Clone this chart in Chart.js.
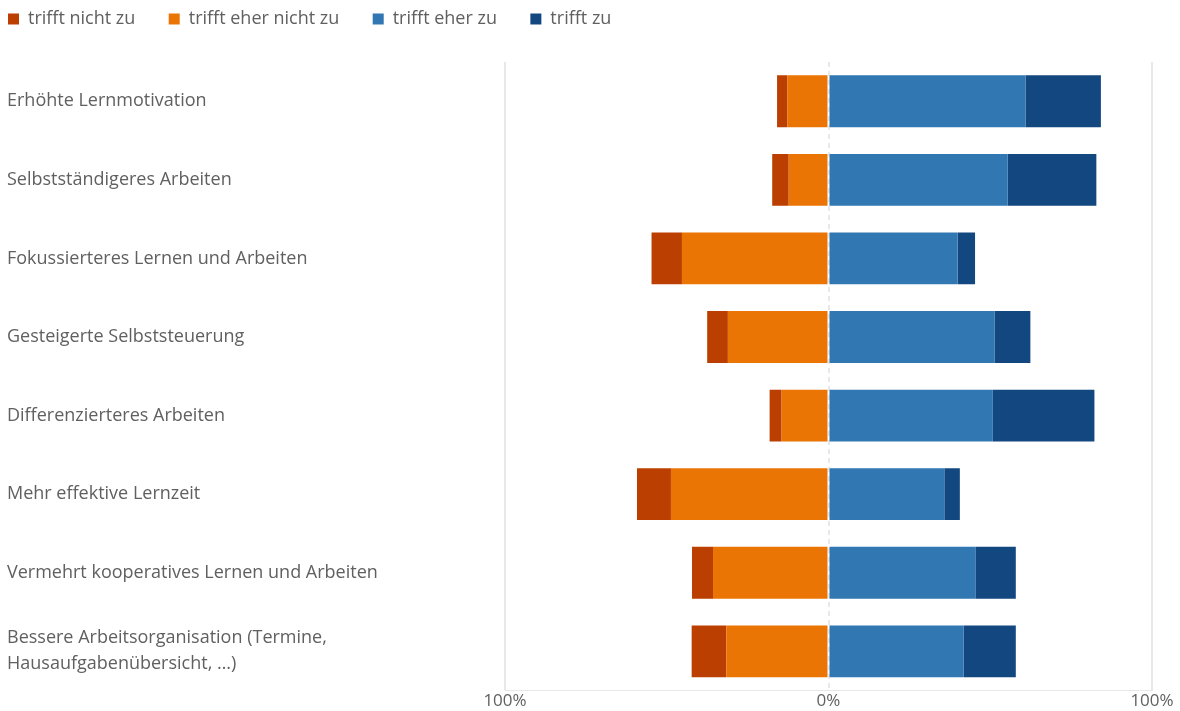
<!DOCTYPE html>
<html lang="de">
<head>
<meta charset="utf-8">
<title>Auswertung</title>
<script src="https://cdn.jsdelivr.net/npm/chart.js@4.4.1/dist/chart.umd.min.js"></script>
<style>
  html, body { margin: 0; padding: 0; background: #fff; }
  #wrap { width: 1180px; height: 711px; position: relative; }
</style>
</head>
<body>
<div id="wrap"><canvas id="likertChart"></canvas></div>
<script>
// Statements (top to bottom)
const statements = [
  'Erhöhte Lernmotivation',
  'Selbstständigeres Arbeiten',
  'Fokussierteres Lernen und Arbeiten',
  'Gesteigerte Selbststeuerung',
  'Differenzierteres Arbeiten',
  'Mehr effektive Lernzeit',
  'Vermehrt kooperatives Lernen und Arbeiten',
  ['Bessere Arbeitsorganisation (Termine,', 'Hausaufgabenübersicht, …)']
];

// Share of answers in percent
const trifftNichtZu     = [3.2, 5.1, 9.4, 6.4, 3.7, 10.5, 6.5, 10.7];
const trifftEherNichtZu = [12.7, 12.3, 45.3, 31.1, 14.5, 48.7, 35.7, 31.6];
const trifftEherZu      = [60.9, 55.4, 39.9, 51.3, 50.8, 35.8, 45.4, 41.8];
const trifftZu          = [23.3, 27.4, 5.4, 11.1, 31.4, 4.8, 12.5, 16.1];

const xTicks = [-100, 0, 100];

const colors = {
  nicht: '#BA3F00',
  eherNicht: '#EA7404',
  eherZu: '#3177B2',
  zu: '#134780'
};

const fontFamily = '"Open Sans", "Noto Sans", sans-serif';
const textColor = '#606060';
const gridColor = '#e8e8e8';

// negative stack grows from 0 to the left, so "eher nicht" comes first
const legendOrder = [1, 0, 2, 3];

// extra room between legend and plot, legend pulled to the left edge
const legendSpacing = {
  id: 'legendSpacing',
  beforeInit(chart) {
    const origFit = chart.legend.fit;
    chart.legend.fit = function fit() {
      origFit.bind(chart.legend)();
      this.height += 24;
    };
  },
  afterLayout(chart) {
    chart.legend.left -= 9;
  }
};

const ctx = document.getElementById('likertChart').getContext('2d');
new Chart(ctx, {
  type: 'bar',
  data: {
    labels: statements,
    datasets: [
      {
        label: 'trifft eher nicht zu',
        data: trifftEherNichtZu.map(v => -v),
        backgroundColor: colors.eherNicht
      },
      {
        label: 'trifft nicht zu',
        data: trifftNichtZu.map(v => -v),
        backgroundColor: colors.nicht
      },
      {
        label: 'trifft eher zu',
        data: trifftEherZu,
        backgroundColor: colors.eherZu
      },
      {
        label: 'trifft zu',
        data: trifftZu,
        backgroundColor: colors.zu
      }
    ]
  },
  options: {
    indexAxis: 'y',
    responsive: true,
    maintainAspectRatio: false,
    animation: false,
    datasets: {
      bar: {
        categoryPercentage: 0.66,
        barPercentage: 1,
        borderWidth: 0
      }
    },
    layout: {
      padding: { left: 7, right: 28, top: 0, bottom: 0 }
    },
    plugins: {
      legend: {
        position: 'top',
        align: 'start',
        labels: {
          boxWidth: 11,
          boxHeight: 11,
          padding: 10,
          color: textColor,
          font: { family: fontFamily, size: 18 },
          sort: (a, b) => legendOrder.indexOf(a.datasetIndex) - legendOrder.indexOf(b.datasetIndex),
          generateLabels(chart) {
            const items = Chart.defaults.plugins.legend.labels.generateLabels(chart);
            // widen each entry a bit so the items sit further apart
            items.forEach(item => { item.text += '     '; });
            return items;
          }
        }
      },
      tooltip: {
        callbacks: {
          label: c => c.dataset.label + ': ' + Math.abs(c.raw) + '%'
        }
      }
    },
    scales: {
      x: {
        stacked: true,
        min: -100,
        max: 100,
        afterBuildTicks: scale => {
          scale.ticks = xTicks.map(v => ({ value: v }));
        },
        ticks: {
          padding: 0,
          color: textColor,
          font: { family: fontFamily, size: 17 },
          callback: v => Math.abs(v) + '%'
        },
        grid: {
          color: gridColor,
          lineWidth: 2,
          drawTicks: false
        },
        border: {
          display: true,
          color: gridColor,
          width: 1,
          dash: c => (c.tick && c.tick.value === 0 ? [5, 4] : [])
        }
      },
      y: {
        stacked: true,
        afterFit: scale => { scale.width = 498; },
        ticks: {
          crossAlign: 'far',
          color: textColor,
          font: { family: fontFamily, size: 18, lineHeight: 1.45 }
        },
        grid: { display: false },
        border: { display: false }
      }
    }
  },
  plugins: [legendSpacing]
});
</script>
</body>
</html>
